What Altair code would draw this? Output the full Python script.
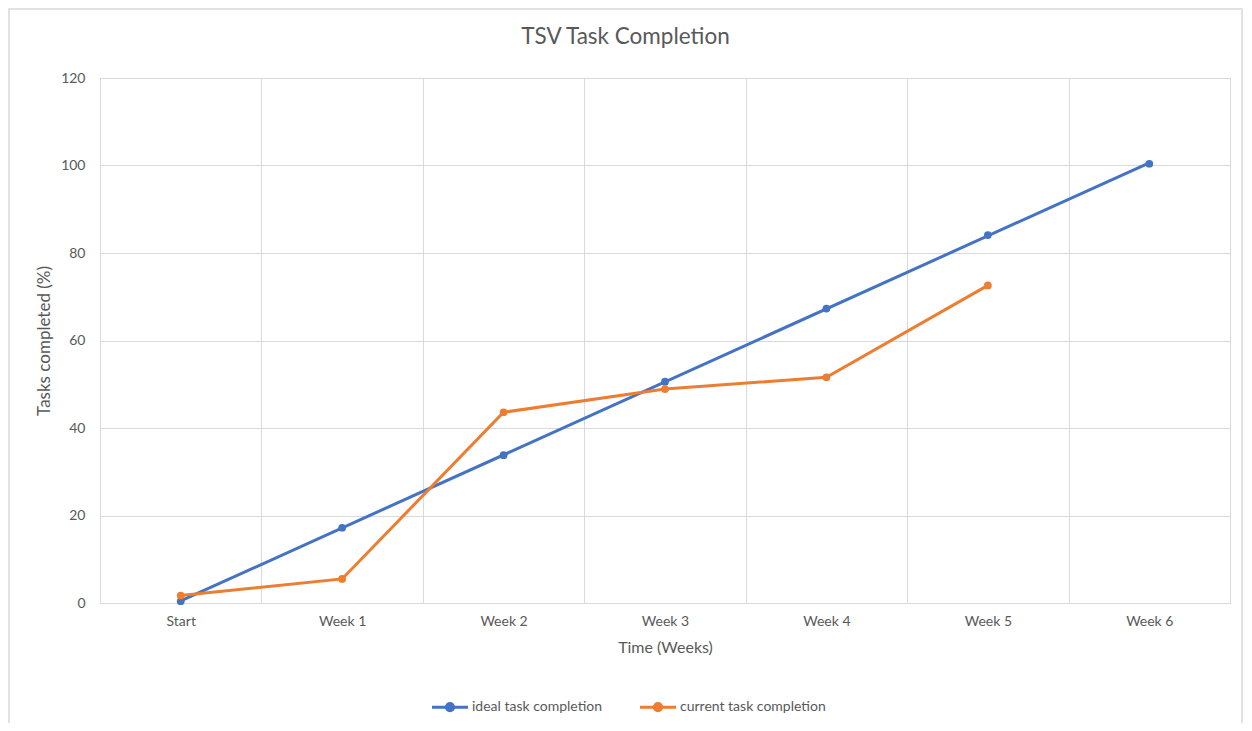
import altair as alt
import pandas as pd

categories = ["Start", "Week 1", "Week 2", "Week 3", "Week 4", "Week 5", "Week 6"]
ideal = [0.4, 17.2, 33.8, 50.6, 67.3, 84.1, 100.4]
current = [1.7, 5.5, 43.6, 48.9, 51.6, 72.6]
series_names = ["ideal task completion", "current task completion"]
series_colors = ["#4472C4", "#ED7D31"]

rows = []
for c, v in zip(categories, ideal):
    rows.append({"week": c, "value": v, "series": series_names[0]})
for c, v in zip(categories, current):
    rows.append({"week": c, "value": v, "series": series_names[1]})
df = pd.DataFrame(rows)

GRID = "#d9d9d9"
TXT = "#595959"
W, H = 1130, 525

legend_path = ("M-1,0 L1,0 M-0.2,0 A0.2,0.2 0 1,0 0.2,0 A0.2,0.2 0 1,0 -0.2,0 Z")

color = alt.Color(
    "series:N",
    scale=alt.Scale(domain=series_names, range=series_colors),
    sort=series_names,
    legend=alt.Legend(
        title=None, orient="none", direction="horizontal",
        legendX=330, legendY=609,
        symbolType=legend_path, symbolSize=1300, symbolStrokeWidth=3,
        labelFontSize=14, labelColor=TXT,
        labelOffset=2, columnPadding=30,
    ),
)

x_band = alt.X(
    "week:N", sort=categories,
    scale=alt.Scale(domain=categories, paddingInner=0, paddingOuter=0),
    axis=alt.Axis(
        title="Time (Weeks)", grid=True, tickBand="extent", ticks=False,
        domain=False, labelAngle=0, labelPadding=11, labelFontSize=14,
        labelColor=TXT, titleFontSize=16, titleColor=TXT, titleFontWeight="normal",
        titlePadding=11, gridColor=GRID,
    ),
)
y_enc = alt.Y(
    "value:Q",
    scale=alt.Scale(domain=[0, 120]),
    axis=alt.Axis(
        title="Tasks completed (%)", values=[0, 20, 40, 60, 80, 100, 120],
        grid=True, ticks=False, domain=False, labelPadding=15, labelFontSize=14,
        labelColor=TXT, titleFontSize=17, titleColor=TXT, titleFontWeight="normal",
        titlePadding=7, gridColor=GRID,
    ),
)

base = alt.Chart(df)

points = base.mark_point(filled=True, size=60, opacity=1).encode(
    x=x_band, y=y_enc, color=color
)

current_line = base.transform_filter(
    alt.datum.series == series_names[1]
).mark_line(strokeWidth=3).encode(x=x_band, y=y_enc, color=color)

ideal_line = base.transform_filter(
    alt.datum.series == series_names[0]
).transform_calculate(
    idx=f"indexof({categories!r}, datum.week)"
).transform_regression(
    "idx", "value", groupby=["series"]
).mark_line(strokeWidth=3).encode(
    x=alt.X("idx:Q", scale=alt.Scale(domain=[-0.5, len(categories) - 0.5], nice=False, zero=False), axis=None),
    y=alt.Y("value:Q", scale=alt.Scale(domain=[0, 120])),
    color=color,
)

border = alt.Chart(pd.DataFrame({"a": [0]})).mark_rect(
    fill=None, stroke=GRID, strokeWidth=1.5
).encode(
    x=alt.value(-91), x2=alt.value(W + 12), y=alt.value(-69), y2=alt.value(H + 140)
)

chart = alt.layer(
    border, alt.layer(ideal_line, alt.layer(current_line, points)).resolve_scale(x="independent")
).properties(
    width=W, height=H,
    title=alt.Title("TSV Task Completion", fontSize=22.5, color=TXT, fontWeight="normal",
                    offset=-40, anchor="middle", frame="bounds"),
    autosize=alt.AutoSizeParams(type="none"),
    padding={"left": 92, "top": 70, "right": 14, "bottom": 120},
).configure(
    font="Lato",
).configure_view(
    stroke=GRID, strokeWidth=1
)

chart.save("out.html", embed_options={"renderer": "svg", "actions": False})
